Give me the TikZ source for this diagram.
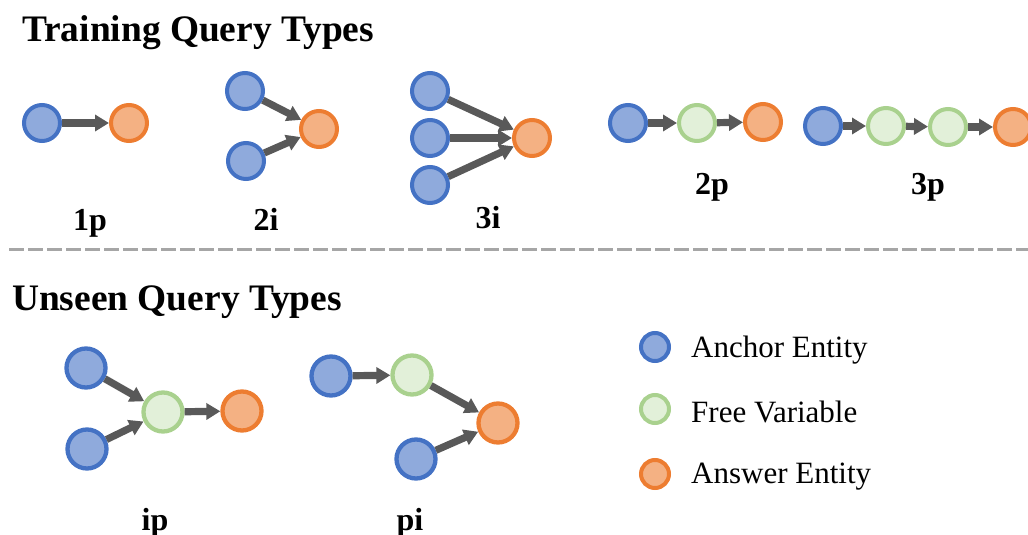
\documentclass[tikz,border=0pt]{standalone}
\usepackage{fontspec}
\setmainfont{Liberation Serif}
\usetikzlibrary{arrows.meta}

\definecolor{anchorline}{HTML}{4472C4}
\definecolor{anchorfill}{HTML}{8FAADC}
\definecolor{freeline}{HTML}{A9D18E}
\definecolor{freefill}{HTML}{E2F0D9}
\definecolor{answerline}{HTML}{ED7D31}
\definecolor{answerfill}{HTML}{F4B183}
\definecolor{arrowgray}{HTML}{595959}
\definecolor{rulegray}{HTML}{A6A6A6}

\tikzset{
  ent/.style={circle, inner sep=0pt, line width=4pt, outer sep=2pt, minimum size=36pt},
  big/.style={line width=4.3pt, outer sep=2.15pt, minimum size=39pt},
  small/.style={minimum size=28pt},
  anchorent/.style={ent, draw=anchorline, fill=anchorfill},
  freeent/.style={ent, draw=freeline, fill=freefill},
  answerent/.style={ent, draw=answerline, fill=answerfill},
  rel/.style={draw=arrowgray, line width=7.2pt, -{Triangle[length=14pt,width=16pt]}},
  heading/.style={anchor=base west, inner sep=0pt, font=\fontsize{37.4}{40}\selectfont\bfseries},
  qlabel/.style={anchor=base, inner sep=0pt, font=\fontsize{32}{36}\selectfont\bfseries},
  legendtext/.style={anchor=west, inner sep=0pt, font=\fontsize{31}{36}\selectfont},
}

\begin{document}
\begin{tikzpicture}[x=1pt, y=-1pt]
\useasboundingbox (0,0) rectangle (1028,535);

% headings and separator
\node[heading] (train) at (22,42) {Training Query Types};
\node[heading] (unseen) at (12,310) {Unseen Query Types};
\coordinate (sepL) at (9,249);
\coordinate (sepR) at (1028,249);
\draw[rulegray, line width=3pt, dash pattern=on 15pt off 4pt] (sepL) -- (sepR);

% 1p
\node[anchorent] (p1a) at (42,123) {};
\node[answerent] (p1t) at (129,123) {};
\draw[rel] (p1a) -- (p1t);
\node[qlabel] (l1p) at (90,230) {1p};

% 2i
\node[anchorent] (i2a) at (245,91) {};
\node[anchorent] (i2b) at (246,161) {};
\node[answerent] (i2t) at (319,129) {};
\draw[rel] (i2a) -- (i2t);
\draw[rel] (i2b) -- (i2t);
\node[qlabel] (l2i) at (266,230) {2i};

% 3i
\node[anchorent] (i3a) at (430,91) {};
\node[anchorent] (i3b) at (430,138) {};
\node[anchorent] (i3c) at (430,185) {};
\node[answerent] (i3t) at (532,138) {};
\draw[rel] (i3a) -- (i3t);
\draw[rel] (i3b) -- (i3t);
\draw[rel] (i3c) -- (i3t);
\node[qlabel] (l3i) at (488,228) {3i};

% 2p
\node[anchorent] (p2a) at (628,123) {};
\node[freeent] (p2v) at (697,123) {};
\node[answerent] (p2t) at (763,122) {};
\draw[rel] (p2a) -- (p2v);
\draw[rel] (p2v) -- (p2t);
\node[qlabel] (l2p) at (712,194) {2p};

% 3p
\node[anchorent] (p3a) at (823,126) {};
\node[freeent] (p3v) at (886,126) {};
\node[freeent] (p3w) at (948,127) {};
\node[answerent] (p3t) at (1013,127) {};
\draw[rel] (p3a) -- (p3v);
\draw[rel] (p3v) -- (p3w);
\draw[rel] (p3w) -- (p3t);
\node[qlabel] (l3p) at (928,194) {3p};

% ip
\node[anchorent, big] (ipa) at (86,368) {};
\node[anchorent, big] (ipb) at (87,449) {};
\node[freeent, big] (ipv) at (163,412) {};
\node[answerent, big] (ipt) at (242,411) {};
\draw[rel] (ipa) -- (ipv);
\draw[rel] (ipb) -- (ipv);
\draw[rel] (ipv) -- (ipt);
\node[qlabel] (lip) at (155,530) {ip};

% pi
\node[anchorent, big] (pia) at (331,376) {};
\node[freeent, big] (piv) at (412,375) {};
\node[answerent, big] (pit) at (498,423) {};
\node[anchorent, big] (pib) at (416,459) {};
\draw[rel] (pia) -- (piv);
\draw[rel] (piv) -- (pit);
\draw[rel] (pib) -- (pit);
\node[qlabel] (lpi) at (410,530) {pi};

% legend
\node[anchorent, small] (kA) at (655,347) {};
\node[legendtext] (tA) at (691,350) {Anchor Entity};
\node[freeent, small] (kF) at (655,409) {};
\node[legendtext] (tF) at (691,412) {Free Variable};
\node[answerent, small] (kT) at (655,474) {};
\node[legendtext] (tT) at (691,477) {Answer Entity};
\end{tikzpicture}
\end{document}
